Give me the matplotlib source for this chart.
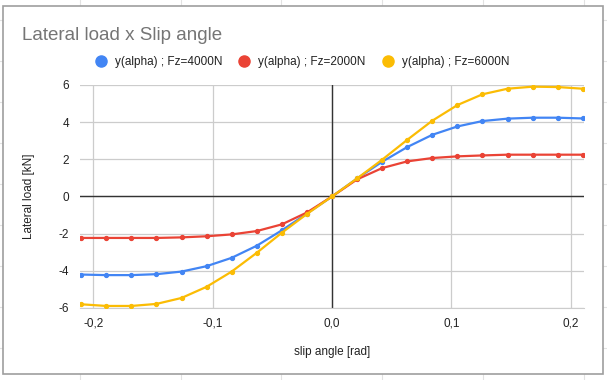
import matplotlib.pyplot as plt
from matplotlib.lines import Line2D
from matplotlib.patches import Rectangle
from matplotlib.ticker import FuncFormatter

plt.rcParams["font.family"] = ["Liberation Sans", "DejaVu Sans"]

# slip angle points [rad]
alpha = [-0.21, -0.189, -0.168, -0.147, -0.126, -0.105, -0.084, -0.063, -0.042, -0.021, 0.0,
         0.021, 0.042, 0.063, 0.084, 0.105, 0.126, 0.147, 0.168, 0.189, 0.21]

# lateral load [kN]
fy_4000 = [-4.20, -4.23, -4.23, -4.18, -4.04, -3.75, -3.30, -2.65, -1.82, -0.92, 0.0,
           0.97, 1.87, 2.66, 3.32, 3.77, 4.06, 4.19, 4.24, 4.24, 4.20]
fy_2000 = [-2.23, -2.23, -2.23, -2.23, -2.20, -2.14, -2.04, -1.86, -1.50, -0.86, 0.0,
           0.92, 1.53, 1.89, 2.07, 2.16, 2.21, 2.25, 2.25, 2.25, 2.25]
fy_6000 = [-5.80, -5.89, -5.89, -5.78, -5.46, -4.86, -4.04, -3.03, -1.95, -0.94, 0.0,
           0.97, 1.98, 3.05, 4.08, 4.92, 5.50, 5.80, 5.91, 5.89, 5.80]

series = [
  ("y(alpha) ; Fz=4000N", fy_4000, "#4285F4"),
  ("y(alpha) ; Fz=2000N", fy_2000, "#EA4335"),
  ("y(alpha) ; Fz=6000N", fy_6000, "#FBBC04"),
]

W, H = 607, 380
fig = plt.figure(figsize=(W / 100, H / 100), dpi=100)

# sheet cell lines behind the chart
for gx in [80, 181, 281, 382, 483, 584]:
  fig.add_artist(Line2D([gx / W, gx / W], [0, 1], color="#e2e2e2", lw=0.8, zorder=-3))
for gy in [20, 61, 102, 143, 184, 225, 266, 307, 348]:
  fig.add_artist(Line2D([0, 1], [1 - gy / H, 1 - gy / H], color="#e2e2e2", lw=0.8, zorder=-3))
fig.add_artist(Rectangle((3 / W, 6 / H), 600 / W, 368 / H, facecolor="white",
                         edgecolor="#9e9e9e", lw=1.2, zorder=-2))

ax = fig.add_axes([80 / W, (H - 308) / H, 504 / W, 223 / H])
ax.set_facecolor("none")

for label, vals, color in series:
  ax.plot(alpha, vals, color=color, lw=1.6, marker="o", markersize=2.8, label=label, zorder=3)

ax.set_xlim(-0.211, 0.211)
ax.set_ylim(-6, 6)
ax.set_xticks([-0.2, -0.1, 0.0, 0.1, 0.2])
ax.set_yticks([-6, -4, -2, 0, 2, 4, 6])
ax.xaxis.set_major_formatter(FuncFormatter(lambda v, p: f"{v:.1f}".replace(".", ",").replace("-0,0", "0,0")))
ax.yaxis.set_major_formatter(FuncFormatter(lambda v, p: f"{v:.0f}"))
ax.grid(True, color="#cccccc", lw=0.9)
ax.axhline(0, color="#333333", lw=1.0, zorder=2)
ax.axvline(0, color="#333333", lw=1.0, zorder=2)
for s in ["top", "right", "left"]:
  ax.spines[s].set_visible(False)
ax.spines["bottom"].set_color("#cccccc")
ax.tick_params(length=0, labelsize=8.5, colors="#222222")
ax.tick_params(axis="x", pad=7)
ax.tick_params(axis="y", pad=8)

ax.set_xlabel("slip angle [rad]", fontsize=8.5, color="#222222", labelpad=12)
ax.set_ylabel("Lateral load [kN]", fontsize=8.5, color="#222222", labelpad=16.5)

fig.text(22 / W, 1 - 36 / H, "Lateral load x Slip angle", fontsize=13.5, color="#757575", va="center")

handles = [Line2D([], [], ls="none", marker="o", markersize=8, color=c) for _, _, c in series]
fig.legend(handles, [s[0] for s in series], loc="center", bbox_to_anchor=(302 / W, 1 - 62 / H),
           ncol=3, frameon=False, fontsize=8.5, handlelength=1.0, handletextpad=0.7,
           columnspacing=1.35, labelcolor="#222222")

fig.savefig("out.png", dpi=100)
